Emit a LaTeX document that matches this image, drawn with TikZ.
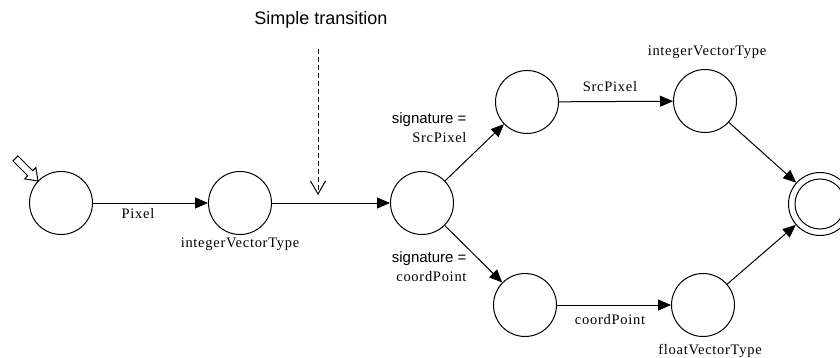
\documentclass[tikz,border=0pt]{standalone}
\usepackage{fontspec}
\setmainfont{Liberation Serif}
\setsansfont{Liberation Sans}
\newfontfamily\lblfont{Liberation Serif}[LetterSpace=5]
\usetikzlibrary{arrows.meta}

\begin{document}
\begin{tikzpicture}[x=1pt, y=-1pt, line width=1pt, state/.style={draw, circle, minimum size=63pt, inner sep=0pt}, arr/.style={-{Triangle[length=13pt,width=11pt]}}, lbl/.style={font=\lblfont\fontsize{14.5}{16}\selectfont, inner sep=0pt}, sig/.style={font=\sffamily\fontsize{15}{19}\selectfont, align=right, inner sep=0pt, anchor=east}]
\useasboundingbox (0,0) rectangle (840,358);
\clip (0,0) rectangle (840,358);
% states
\node[state] (s0) at (61,203) {};
\node[state] (s1) at (240,203) {};
\node[state] (s2) at (422,203) {};
\node[state] (s3) at (527,102) {};
\node[state] (s4) at (525,305) {};
\node[state] (s5) at (705,101) {};
\node[state] (s6) at (703,305) {};
\node[state] (fin) at (820,204) {};
\node[state, minimum size=50pt] (finin) at (fin) {};
% start marker
\draw[line join=miter] (38,181) -- (35.9,167.5) -- (32.7,170.7) -- (17.9,155.9) -- (12.9,160.9) -- (27.7,175.7) -- (24.6,178.9) -- cycle;
% transitions
\draw[arr] (s0) -- (s1);
\draw[arr] (s1) -- (s2);
\draw[arr] (s2) -- (s3);
\draw[arr] (s2) -- (s4);
\draw[arr] (s3) -- (s5);
\draw[arr] (s4) -- (s6);
\draw[arr] (s5) -- (fin);
\draw[arr] (s6) -- (fin);
% labels
\node[lbl] (pix) at (138,214) {Pixel};
\node[lbl] (ivt1) at (240,244) {integerVectorType};
\node[lbl] (src) at (610,87) {SrcPixel};
\node[lbl] (ivt2) at (707,52) {integerVectorType};
\node[lbl] (crd) at (610,320) {coordPoint};
\node[lbl] (fvt) at (710,351) {floatVectorType};
\node[sig] (sigtop) at (467,128) {signature =\\{\lblfont\fontsize{14.5}{19}\selectfont SrcPixel}};
\node[sig] (sigbot) at (467,267) {signature =\\{\lblfont\fontsize{14.5}{19}\selectfont coordPoint}};
% note
\node[font=\sffamily\fontsize{18}{20}\selectfont, inner sep=0pt] (simple) at (321,20) {Simple transition};
\coordinate (dtop) at (318,49);
\coordinate (dend) at (318,195);
\draw[dash pattern=on 5pt off 3pt, -{Straight Barb[length=13pt,width=15pt]}] (dtop) -- (dend);
\end{tikzpicture}
\end{document}
